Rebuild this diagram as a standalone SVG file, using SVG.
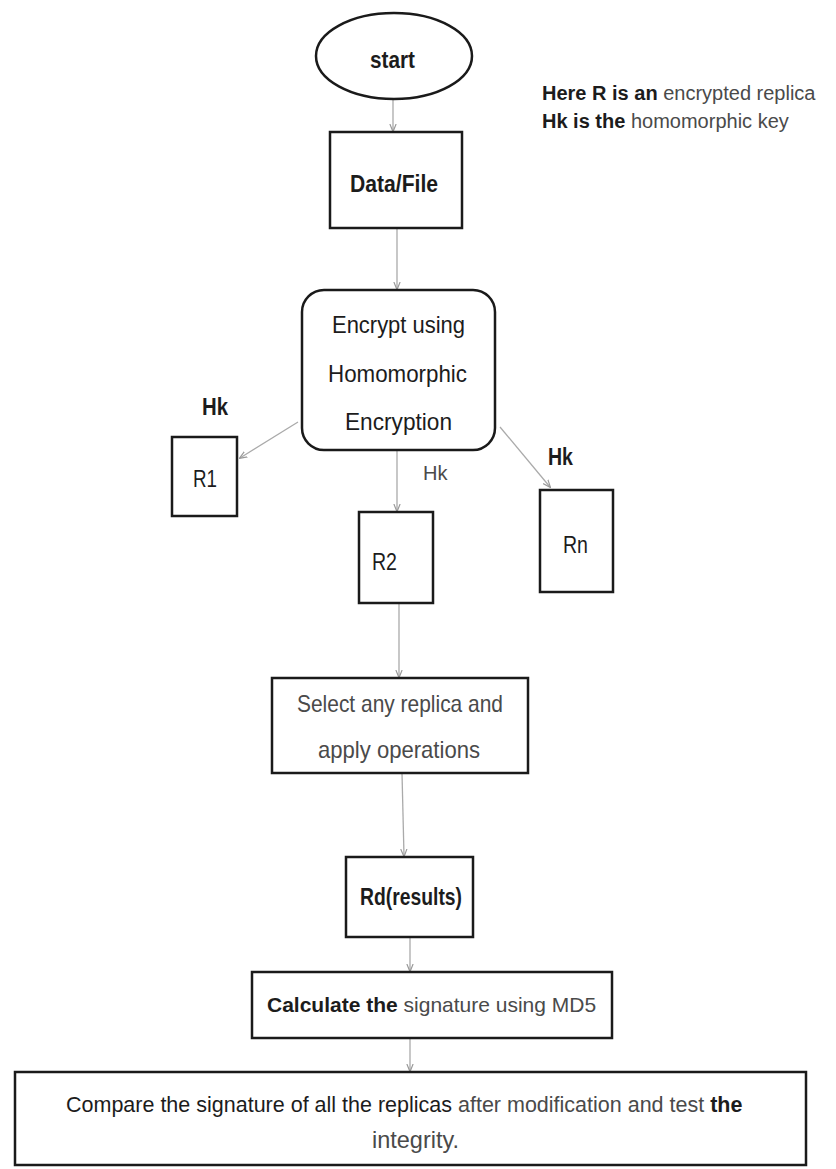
<svg xmlns="http://www.w3.org/2000/svg" width="836" height="1169" viewBox="0 0 836 1169">
<style>
.node{fill:#fff;stroke:#1a1a1a;stroke-width:2.5}
.t{font-family:"Liberation Sans",Arial,sans-serif;font-size:24px;fill:#1c1c1c}
.s20{font-size:20px}
.s21{font-size:21px}
.s215{font-size:21.5px}
.b{font-weight:bold}
.l{fill:#4a4a4a}
.c{fill:none;stroke:#aaaaaa;stroke-width:1.3}
</style>
<defs>
<marker id="ah" viewBox="0 0 10 10" refX="9" refY="5" markerWidth="6" markerHeight="6" orient="auto">
<path d="M0,1 L10,5 L0,9" fill="none" stroke="#999" stroke-width="1.5"/>
</marker>
</defs>
<rect width="836" height="1169" fill="#fff"/>
<g id="connectors">
<line class="c" x1="393" y1="99" x2="393" y2="131" marker-end="url(#ah)"/>
<line class="c" x1="397" y1="228" x2="397" y2="289" marker-end="url(#ah)"/>
<line class="c" x1="298" y1="422" x2="240" y2="458" marker-end="url(#ah)"/>
<line class="c" x1="397" y1="450" x2="397" y2="511" marker-end="url(#ah)"/>
<line class="c" x1="500" y1="427" x2="550" y2="487" marker-end="url(#ah)"/>
<line class="c" x1="399" y1="603" x2="399" y2="677" marker-end="url(#ah)"/>
<line class="c" x1="402" y1="773" x2="404" y2="856" marker-end="url(#ah)"/>
<line class="c" x1="410" y1="937" x2="410" y2="971" marker-end="url(#ah)"/>
<line class="c" x1="410" y1="1038" x2="410" y2="1071" marker-end="url(#ah)"/>
</g>
<g id="legend">
<text class="t s20" x="542" y="100"><tspan class="b">Here R is an </tspan><tspan class="l">encrypted replica</tspan></text>
<text class="t s20" x="542" y="128"><tspan class="b">Hk is the </tspan><tspan class="l">homomorphic key</tspan></text>
</g>
<g id="start">
<ellipse class="node" cx="394" cy="56" rx="78" ry="43"/>
<text class="t b" x="370" y="68" textLength="45" lengthAdjust="spacingAndGlyphs">start</text>
</g>
<g id="datafile">
<rect class="node" x="330" y="132" width="132" height="96"/>
<text class="t b" x="350" y="192" textLength="88" lengthAdjust="spacingAndGlyphs">Data/File</text>
</g>
<g id="encrypt">
<rect class="node" x="302" y="290" width="193" height="160" rx="22"/>
<text class="t" x="332" y="333" textLength="133" lengthAdjust="spacingAndGlyphs">Encrypt using</text>
<text class="t" x="328" y="382" textLength="139" lengthAdjust="spacingAndGlyphs">Homomorphic</text>
<text class="t" x="345" y="430" textLength="107" lengthAdjust="spacingAndGlyphs">Encryption</text>
</g>
<g id="hk-labels">
<text class="t b" x="202" y="415" textLength="26" lengthAdjust="spacingAndGlyphs">Hk</text>
<text class="t s20 l" x="423" y="480">Hk</text>
<text class="t b" x="548" y="465" textLength="25" lengthAdjust="spacingAndGlyphs">Hk</text>
</g>
<g id="r1">
<rect class="node" x="172" y="437" width="65" height="79"/>
<text class="t" x="193" y="487" textLength="24" lengthAdjust="spacingAndGlyphs">R1</text>
</g>
<g id="r2">
<rect class="node" x="359" y="512" width="74" height="91"/>
<text class="t" x="372" y="570" textLength="25" lengthAdjust="spacingAndGlyphs">R2</text>
</g>
<g id="rn">
<rect class="node" x="540" y="490" width="73" height="102"/>
<text class="t" x="563" y="553" textLength="25" lengthAdjust="spacingAndGlyphs">Rn</text>
</g>
<g id="select">
<rect class="node" x="272" y="678" width="256" height="95"/>
<text class="t l" x="297" y="712" textLength="206" lengthAdjust="spacingAndGlyphs">Select any replica and</text>
<text class="t l" x="318" y="758" textLength="162" lengthAdjust="spacingAndGlyphs">apply operations</text>
</g>
<g id="rd">
<rect class="node" x="346" y="857" width="127" height="80"/>
<text class="t b" x="360" y="905" textLength="102" lengthAdjust="spacingAndGlyphs">Rd(results)</text>
</g>
<g id="calculate">
<rect class="node" x="252" y="972" width="360" height="66"/>
<text class="t s21" x="267" y="1012"><tspan class="b">Calculate the </tspan><tspan class="l">signature using MD5</tspan></text>
</g>
<g id="compare">
<rect class="node" x="15" y="1072" width="791" height="93"/>
<text class="t s215" x="66" y="1112">Compare the signature of all the replicas <tspan class="l">after modification and test </tspan><tspan class="b">the</tspan></text>
<text class="t l" x="372" y="1148" textLength="87" lengthAdjust="spacingAndGlyphs">integrity.</text>
</g>
</svg>
